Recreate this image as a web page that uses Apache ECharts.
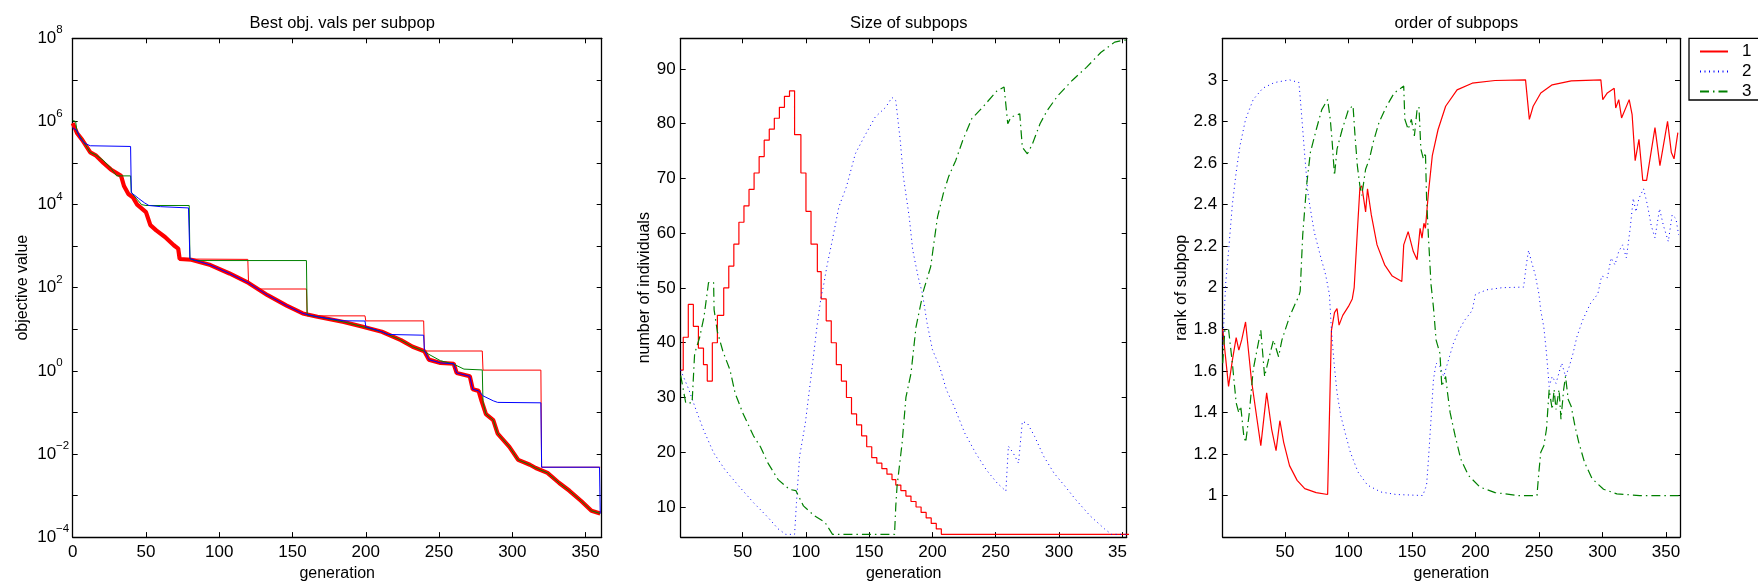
<!DOCTYPE html>
<html><head><meta charset="utf-8">
<script src="https://cdn.jsdelivr.net/npm/echarts@6/dist/echarts.min.js"></script>
<style>html,body{margin:0;padding:0;background:#fff}#c{width:1758px;height:587px}</style>
</head><body><div id="c"></div>
<script>
// ---------- tick values ----------
const genTicksLeft = [0, 50, 100, 150, 200, 250, 300, 350];
const genTicks = [50, 100, 150, 200, 250, 300, 350];
const objDecades = [1e-4, 1e-3, 1e-2, 1e-1, 1, 1e1, 1e2, 1e3, 1e4, 1e5, 1e6, 1e7, 1e8];
const objLabels = [1e-4, 1e-2, 1, 1e2, 1e4, 1e6, 1e8];
const sizeTicks = [10, 20, 30, 40, 50, 60, 70, 80, 90];
const rankTicks = [1, 1.2, 1.4, 1.6, 1.8, 2, 2.2, 2.4, 2.6, 2.8, 3];
const titles = ['Best obj. vals per subpop', 'Size of subpops', 'order of subpops'];
const legendNames = ['1', '2', '3'];

// ---------- panel 1: best objective values [generation, value] ----------
const bestAll = [[0,9.1e5],[3,5.2e5],[6.5,3.6e5],[12,1.8e5],[16,1.5e5],[21,1.0e5],[26,7.0e4],[33,4.9e4],[35,2.8e4],[38,1.8e4],[41,1.5e4],[44,1.0e4],[50,6.6e3],[53,3.2e3],[57,2.4e3],[63,1.66e3],[69,1.05e3],[72,8.7e2],[73,4.9e2],[81,4.7e2],[94,3.5e2],[107,2.2e2],[120,1.3e2],[133,6.6e1],[146,3.7e1],[157,2.4e1],[167,2.0e1],[185,1.5e1],[198,1.15e1],[211,8.7],[224,5.5],[232,3.8],[240,2.95],[243,1.86],[251,1.55],[260,1.48],[262,0.89],[271,0.74],[273,0.36],[277,0.33],[279,0.19],[282,0.091],[287,0.065],[290,0.031],[298,0.0148],[304,0.0072],[312,0.0055],[316,0.0046],[324,0.0035],[332,0.0020],[339,0.0013],[347,0.00074],[354,0.00043],[360,0.00037]];
const bestRed = [[0,9.1e5],[3,5.2e5],[6.5,3.6e5],[12,1.8e5],[16,1.5e5],[21,1.0e5],[26,7.0e4],[33,4.9e4],[35,2.8e4],[38,1.8e4],[41,1.5e4],[44,1.0e4],[50,6.6e3],[53,3.2e3],[57,2.4e3],[63,1.66e3],[69,1.05e3],[72,8.7e2],[73,4.9e2],[119.5,4.8e2],[120,1.3e2],[126,9.3e1],[159.5,9.3e1],[160,2.1e1],[199.5,2.1e1],[200,1.59e1],[239.5,1.59e1],[240,3.0],[279.5,3.0],[280,1.04],[319.5,1.04],[320,4.8e-3],[360,4.8e-3]];
const bestBlue = [[0,7.0e5],[3,6.0e5],[5,4.0e5],[8,3.0e5],[12,2.6e5],[39.5,2.5e5],[40,1.9e4],[42,1.7e4],[45,1.4e4],[49,1.1e4],[52,9.5e3],[60,8.9e3],[79,8.3e3],[80,5.0e2],[81,4.7e2],[94,3.5e2],[107,2.2e2],[120,1.3e2],[133,6.6e1],[146,3.7e1],[157,2.4e1],[167,2.0e1],[175,1.8e1],[185,1.6e1],[199.5,1.58e1],[200,1.15e1],[211,8.7],[215,7.5],[239.5,7.2],[240,3.1],[243,1.86],[251,1.55],[260,1.48],[262,0.89],[271,0.74],[273,0.36],[277,0.33],[280,0.25],[287,0.19],[290,0.174],[319.5,0.17],[320,4.8e-3],[359.5,4.8e-3],[360,3.7e-4]];
const bestGreen = [[0,1.05e6],[2,1.0e6],[3,5.5e5],[6.5,3.6e5],[12,1.8e5],[16,1.55e5],[21,1.15e5],[26,7.5e4],[30,4.9e4],[39.5,4.9e4],[40,2.0e4],[42,1.6e4],[47,1.0e4],[50,9.5e3],[79.5,9.5e3],[80,5.0e2],[83,4.5e2],[159.5,4.5e2],[160,2.2e1],[167,2.0e1],[185,1.5e1],[198,1.15e1],[211,8.7],[224,5.5],[232,3.8],[240,2.95],[243,2.5],[251,1.75],[260,1.45],[267,1.1],[279.5,1.05],[280,0.17],[282,0.091],[287,0.065],[290,0.031],[298,0.0148],[304,0.0072],[312,0.0055],[316,0.0046],[324,0.0035],[332,0.0020],[339,0.0013],[347,0.00074],[354,0.00043],[360,0.00037]];

// ---------- panel 2: size of subpops [generation, individuals] ----------
const sizeRed = [[1,35],[3,41],[7,47],[11,43],[15,39],[19,36],[22,33],[26,40],[30,45],[35,50],[39,54],[43,58],[47,62],[51,65],[55,68],[59,71],[63,74],[67,77],[71,79],[75,81],[79,83],[83,85],[87,86],[91,78],[96,71],[100,64],[104,58],[109,53],[112,48],[116,44],[120,40],[124,36],[128,33],[132,30],[136,27],[140,25],[144,23],[148,21],[152,19],[156,18],[160,17],[164,16],[168,15],[171,14],[175,13],[179,12],[183,11],[187,10],[191,9],[195,8],[199,7],[203,6],[207,5],[360,5]];
const sizeBlue = [[1,35],[7.5,31.4],[13,27.8],[19,24.1],[27,19.9],[36,16.8],[47,13.8],[58.5,10.8],[70,8.1],[78,6],[84,5],[91,5],[92.5,10.8],[95,19.3],[99.5,25.3],[104,33.8],[109,43.5],[112,48.4],[113.7,50.2],[116.5,53.9],[120.8,58.7],[126,64.8],[132,68.5],[139,74.5],[146,77.6],[154.7,81.2],[163,83],[168,84.8],[171,84.2],[174.5,77],[177,70.3],[181.6,63],[184.4,56.9],[188.7,52],[192,49],[195.8,43.5],[200,38.7],[205.7,35.6],[211,31.4],[217,28.4],[225.5,23.5],[234,19.9],[242.5,16.8],[251,14.4],[258,12.9],[260,21.1],[263.7,19.9],[268,18],[271,25.6],[275,25.3],[280.7,22.9],[287.8,19.3],[296,16.2],[304.7,13.8],[313,11.4],[324.5,8.4],[336,6],[341.5,5],[360,5]];
const sizeGreen = [[1,34],[5,29],[10,29],[12,38],[16,41],[19.4,44.7],[23,51],[27,51],[27.4,46],[30,42],[34.4,38.4],[40,35],[44,30.8],[50,27.2],[58.5,23],[64,21],[70,18],[78,15],[87,13.2],[92,13],[98,10.2],[106.6,8.4],[115,7.2],[121,5],[170,5],[171,10.2],[172,13.8],[176,21.7],[179,30],[183,34.4],[187,42.9],[193,49.6],[198.6,53.9],[201.4,58.7],[204,63],[208.5,67.2],[212.7,70.3],[218.4,73.3],[224,77],[231,80.9],[239.6,83],[251,86],[256.6,86.7],[259.5,80],[262,81.2],[269,81.8],[271,75.7],[275,74.5],[279,76.3],[285,80],[290.6,82.4],[299,85.1],[310.4,87.9],[321.7,90.3],[333,93],[344,94.9],[350,95.2],[360,95.5]];

// ---------- panel 3: rank of subpops [generation, rank] ----------
const rankRed = [[1,1.8],[5.6,1.525],[8.6,1.65],[11.6,1.76],[13.7,1.7],[16,1.75],[19,1.835],[23.6,1.557],[28,1.367],[31,1.24],[35.6,1.494],[39.5,1.32],[43,1.216],[46,1.36],[49,1.256],[53.6,1.144],[59.6,1.073],[65.6,1.033],[74.6,1.014],[83.6,1.005],[86.6,1.795],[89,1.88],[91,1.9],[92.6,1.82],[95.5,1.867],[100,1.91],[103,1.946],[104.5,2.0],[107,2.27],[109,2.48],[110.5,2.49],[113.5,2.365],[115,2.476],[118,2.35],[122.5,2.206],[128.5,2.11],[134.5,2.056],[142,2.03],[143.5,2.206],[145,2.2],[147,2.27],[151,2.175],[154,2.135],[156.4,2.286],[157.9,2.238],[159.4,2.31],[160.6,2.286],[163,2.46],[166,2.635],[170.5,2.76],[176.5,2.873],[185.5,2.952],[197.4,2.984],[215.4,2.997],[239.4,3.0],[242.4,2.81],[245.4,2.873],[251.4,2.937],[260.4,2.976],[275.4,2.995],[298.7,3.0],[300.2,2.905],[303.8,2.937],[309.2,2.96],[310.4,2.865],[312.8,2.905],[315,2.817],[321,2.905],[323.3,2.833],[325.7,2.611],[328.7,2.714],[331.7,2.516],[334.7,2.516],[341.3,2.77],[345.2,2.587],[351.2,2.8],[354.2,2.65],[356.3,2.62],[359.3,2.746]];
const rankBlue = [[1,1.72],[3.3,2.016],[5.6,2.175],[8.6,2.4],[11.6,2.556],[14.6,2.683],[19,2.81],[25,2.905],[32.6,2.96],[41.6,2.987],[53.6,3.0],[61,2.987],[63,2.84],[65.6,2.635],[68,2.46],[70,2.38],[73,2.27],[77.6,2.16],[82,2.063],[85,1.968],[86.6,1.795],[88.7,1.637],[91,1.494],[94,1.383],[97,1.311],[101.5,1.208],[107.5,1.113],[115,1.05],[125.5,1.017],[137.5,1.005],[158.5,1.0],[161.5,1.05],[163,1.176],[165,1.367],[166.9,1.557],[169,1.637],[172,1.62],[175,1.573],[178,1.637],[179.5,1.668],[182.5,1.73],[187,1.795],[191.4,1.843],[197.4,1.89],[200,1.968],[209,1.99],[221,2.0],[237.9,2.003],[240,2.11],[241.8,2.18],[244,2.127],[247,2.063],[250,1.968],[251.4,1.89],[253.8,1.81],[255.9,1.684],[258,1.525],[260.4,1.573],[263.4,1.54],[266.4,1.605],[267.9,1.637],[270.9,1.573],[273.8,1.62],[276.8,1.684],[279.8,1.763],[284.3,1.843],[290.3,1.922],[296.3,1.97],[299.3,2.056],[303.8,2.048],[306.8,2.143],[309.8,2.11],[312.8,2.175],[315.8,2.206],[318.8,2.143],[321.8,2.286],[324.2,2.43],[326.3,2.365],[328.7,2.43],[332.3,2.476],[335.3,2.4],[338.3,2.3],[341.3,2.24],[344.9,2.38],[347.9,2.3],[351.8,2.222],[354.8,2.35],[357.8,2.333],[359.9,2.254]];
const rankGreen = [[1,1.637],[2.7,1.795],[5.6,1.8],[8.6,1.637],[11.6,1.446],[13.7,1.398],[15.2,1.43],[17.6,1.287],[19.1,1.256],[22,1.4],[25,1.605],[29,1.732],[31,1.795],[34,1.573],[37,1.652],[41,1.748],[45,1.668],[47.6,1.748],[53.6,1.86],[58,1.922],[61,1.96],[62,1.984],[64,2.254],[67,2.49],[70,2.65],[74.6,2.76],[79,2.857],[83.6,2.905],[85.7,2.81],[87.2,2.7],[89,2.54],[91,2.667],[95,2.76],[100,2.857],[103.6,2.876],[105,2.746],[107,2.587],[109,2.49],[110.5,2.444],[113.5,2.57],[116.5,2.62],[119.5,2.7],[124,2.794],[130,2.873],[136,2.937],[143.5,2.97],[144.4,2.81],[147,2.762],[149.5,2.81],[151.9,2.73],[154,2.857],[155.5,2.87],[157,2.667],[159,2.62],[160.6,2.65],[161.5,2.43],[163,2.24],[165,2.016],[166.9,1.906],[169,1.748],[172,1.684],[173.5,1.525],[176.5,1.573],[178,1.494],[180,1.4],[184,1.287],[188.4,1.176],[194.4,1.097],[203.4,1.041],[215.4,1.014],[233.4,1.0],[248.4,1.0],[249.9,1.113],[251.4,1.208],[253.8,1.24],[255.9,1.32],[258,1.51],[260.4,1.414],[261.9,1.51],[263.4,1.414],[265.8,1.51],[267.3,1.367],[269.4,1.51],[270.9,1.573],[273,1.462],[275.3,1.43],[278.3,1.335],[281.3,1.256],[285.8,1.16],[291.8,1.081],[300.8,1.03],[311.3,1.008],[329.3,1.0],[359.9,1.0]];

// ---------- layout / style ----------
const FONT = '"Liberation Sans", Arial, Helvetica, sans-serif';
const grids = [
  {left: 72.7, top: 38.3, width: 529, height: 502},
  {left: 680.7, top: 38.3, width: 446, height: 499},
  {left: 1222.7, top: 38.3, width: 457.3, height: 504}
];
const RED = '#ff0000', BLUE = '#0000ff', GREEN = '#008000';
const DOT = [1, 3.5], DASHDOT = [9, 4, 1.5, 4];
const TICK_FS = 17;

function axisBase(gi, type, min, max, pos, ticks, labels, fmt, margin) {
  const a = {
    type: type, gridIndex: gi, min: min, max: max, position: pos,
    axisLine: {show: true, onZero: false, lineStyle: {color: '#000', width: 1.3}},
    axisTick: {show: true, inside: true, length: 5, customValues: ticks, lineStyle: {color: '#000', width: 1}},
    axisLabel: labels ? {show: true, customValues: labels, color: '#000', fontSize: TICK_FS, fontFamily: FONT, margin: margin, formatter: fmt} : {show: false},
    splitLine: {show: false}
  };
  if (type === 'log') a.logBase = 10;
  return a;
}
const nameStyle = {color: '#000', fontSize: 16, fontFamily: FONT};
function withName(a, name, gap, rot) {
  a.name = name; a.nameLocation = 'middle'; a.nameGap = gap; a.nameTextStyle = nameStyle;
  if (rot) a.nameRotate = rot;
  return a;
}
const plainFmt = v => String(v);
const midXFmt = v => v === 350 ? '{c|35}' : String(v);
const powFmt = v => {
  const e = Math.round(Math.log10(v));
  return e < 0 ? '{b|10}{n|\u2212' + (-e) + '}' : '{b|10}{s|' + e + '}';
};

const xAxis = [
  withName(axisBase(0, 'value', 0, 361, 'bottom', genTicksLeft, genTicksLeft, plainFmt, 7), 'generation', 28),
  axisBase(0, 'value', 0, 361, 'top', genTicksLeft, null),
  withName(axisBase(1, 'value', 1, 353.5, 'bottom', genTicks, genTicks, midXFmt, 7), 'generation', 28.5),
  axisBase(1, 'value', 1, 353.5, 'top', genTicks, null),
  withName(axisBase(2, 'value', 1, 361, 'bottom', genTicks, genTicks, plainFmt, 7), 'generation', 27.5),
  axisBase(2, 'value', 1, 361, 'top', genTicks, null)
];
xAxis[2].axisLabel.rich = {c: {fontSize: TICK_FS, fontFamily: FONT, color: '#000', padding: [0, 9.5, 0, 0]}};

const yLeft = axisBase(0, 'log', 1e-4, 1e8, 'left', objDecades, objLabels, powFmt, 3.5);
const supBase = {fontSize: 11.5, fontFamily: FONT, color: '#000', lineHeight: 11, verticalAlign: 'top'};
yLeft.axisLabel.rich = {
  b: {fontSize: TICK_FS, fontFamily: FONT, color: '#000', lineHeight: 28},
  s: Object.assign({padding: [0, 6.5, 0, 0]}, supBase),
  n: Object.assign({}, supBase)
};
const yAxis = [
  withName(yLeft, 'objective value', 42, 90),
  axisBase(0, 'log', 1e-4, 1e8, 'right', objDecades, null),
  withName(axisBase(1, 'value', 4.5, 95.6, 'left', sizeTicks, sizeTicks, plainFmt, 5), 'number of individuals', 28, 90),
  axisBase(1, 'value', 4.5, 95.6, 'right', sizeTicks, null),
  withName(axisBase(2, 'value', 0.8, 3.2, 'left', rankTicks, rankTicks, plainFmt, 5.5), 'rank of subpop', 33, 90),
  axisBase(2, 'value', 0.8, 3.2, 'right', rankTicks, null)
];

function line(name, data, xi, yi, color, width, type, extra) {
  return Object.assign({
    name: name, type: 'line', data: data, xAxisIndex: xi, yAxisIndex: yi,
    showSymbol: false, symbol: 'none', clip: true, silent: true, animation: false,
    lineStyle: {color: color, width: width, type: type}, itemStyle: {color: color}
  }, extra || {});
}

const series = [
  line('bestAll', bestAll, 0, 0, RED, 4.2, 'solid'),
  line('bestRed', bestRed, 0, 0, RED, 1, 'solid'),
  line('bestGreen', bestGreen, 0, 0, GREEN, 1, 'solid'),
  line('bestBlue', bestBlue, 0, 0, BLUE, 1, 'solid'),
  line('sizeRed', sizeRed, 2, 2, RED, 1.2, 'solid', {step: 'end'}),
  line('sizeBlue', sizeBlue, 2, 2, BLUE, 1, DOT),
  line('sizeGreen', sizeGreen, 2, 2, GREEN, 1.2, DASHDOT),
  line(legendNames[0], rankRed, 4, 4, RED, 1.2, 'solid'),
  line(legendNames[1], rankBlue, 4, 4, BLUE, 1, DOT),
  line(legendNames[2], rankGreen, 4, 4, GREEN, 1.2, DASHDOT)
];

const title = titles.map((t, i) => ({
  text: t, left: grids[i].left + grids[i].width / 2, top: 10, textAlign: 'center',
  textStyle: {color: '#000', fontSize: 16.5, fontWeight: 'normal', fontFamily: FONT}
}));

const chart = echarts.init(document.getElementById('c'), null, {renderer: 'canvas'});
chart.setOption({
  backgroundColor: '#fff',
  animation: false,
  title: title,
  grid: grids,
  xAxis: xAxis,
  yAxis: yAxis,
  graphic: [{
    type: 'polyline', z: 0, silent: true,
    shape: {points: [[1758, 38.3], [1689, 38.3], [1689, 100], [1758, 100]]},
    style: {fill: null, stroke: '#000', lineWidth: 1.3}
  }],
  legend: {
    data: legendNames, orient: 'vertical', left: 1689, top: 41, z: 5,
    padding: [2, 10, 2, 10], itemWidth: 28, itemHeight: 14, itemGap: 3,
    borderWidth: 0,
    itemStyle: {color: 'rgba(0,0,0,0)', borderWidth: 0, opacity: 0},
    textStyle: {color: '#000', fontSize: 17, lineHeight: 16, fontFamily: FONT, padding: [0, 0, 0, 9]},
    selectedMode: false
  },
  series: series
});
</script>
</body></html>
